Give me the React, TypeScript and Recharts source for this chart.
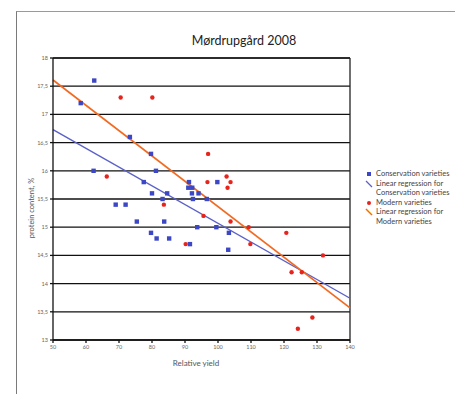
import { ScatterChart, Scatter, XAxis, YAxis, CartesianGrid, ReferenceLine } from 'recharts';

const xTicks = [50, 60, 70, 80, 90, 100, 110, 120, 130, 140];
const yTicks = [13, 13.5, 14, 14.5, 15, 15.5, 16, 16.5, 17, 17.5, 18];

const conservation = [
	{ x: 62.5, y: 17.6 }, { x: 58.4, y: 17.2 }, { x: 73.3, y: 16.6 }, { x: 79.7, y: 16.3 },
	{ x: 81.2, y: 16.0 }, { x: 62.3, y: 16.0 }, { x: 77.5, y: 15.8 }, { x: 80.0, y: 15.6 },
	{ x: 83.2, y: 15.5 }, { x: 84.6, y: 15.6 }, { x: 91.2, y: 15.8 }, { x: 91.0, y: 15.7 },
	{ x: 92.2, y: 15.7 }, { x: 92.1, y: 15.6 }, { x: 92.4, y: 15.5 }, { x: 94.1, y: 15.6 },
	{ x: 96.6, y: 15.5 }, { x: 99.8, y: 15.8 }, { x: 69.0, y: 15.4 }, { x: 72.0, y: 15.4 },
	{ x: 75.4, y: 15.1 }, { x: 83.7, y: 15.1 }, { x: 79.7, y: 14.9 }, { x: 81.4, y: 14.8 },
	{ x: 85.2, y: 14.8 }, { x: 93.7, y: 15.0 }, { x: 99.5, y: 15.0 }, { x: 103.3, y: 14.9 },
	{ x: 103.1, y: 14.6 }, { x: 91.5, y: 14.7 },
];

const modern = [
	{ x: 70.5, y: 17.3 }, { x: 80.1, y: 17.3 }, { x: 66.3, y: 15.9 }, { x: 97.0, y: 16.3 },
	{ x: 96.8, y: 15.8 }, { x: 102.6, y: 15.9 }, { x: 102.9, y: 15.7 }, { x: 103.8, y: 15.8 },
	{ x: 90.2, y: 14.7 }, { x: 83.6, y: 15.4 }, { x: 95.6, y: 15.2 }, { x: 103.8, y: 15.1 },
	{ x: 109.3, y: 15.0 }, { x: 109.8, y: 14.7 }, { x: 120.7, y: 14.9 }, { x: 131.8, y: 14.5 },
	{ x: 122.3, y: 14.2 }, { x: 125.4, y: 14.2 }, { x: 128.6, y: 13.4 }, { x: 124.2, y: 13.2 },
];

// regression line end points
const conservationFit = [{ x: 50, y: 16.73 }, { x: 140, y: 13.74 }];
const modernFit = [{ x: 50, y: 17.61 }, { x: 140, y: 13.57 }];

const BLUE = '#3b47c4';
const BLUE_LINE = '#5a60c8';
const RED = '#e8231c';
const ORANGE = '#f26a21';
const FONT = 'Lato, "Open Sans", sans-serif';

const SquareDot = (props: any) => {
	const { cx, cy } = props;
	return <rect x={cx - 2.2} y={cy - 2.2} width={4.4} height={4.4} fill={BLUE} />;
};

const RoundDot = (props: any) => {
	const { cx, cy } = props;
	return <circle cx={cx} cy={cy} r={2.2} fill={RED} />;
};

const legendText = { fontSize: 7.5, color: '#444', lineHeight: '9.5px', whiteSpace: 'nowrap' as const };

const LegendBox = () => (
	<div style={{ position: 'absolute', left: 363, top: 169, fontFamily: FONT }}>
		<div style={{ position: 'relative', paddingLeft: 13, ...legendText }}>
			<span style={{ position: 'absolute', left: 4, top: 3, width: 4, height: 4, background: BLUE }} />
			Conservation varieties
		</div>
		<div style={{ position: 'relative', paddingLeft: 13, ...legendText }}>
			<svg width={8} height={8} style={{ position: 'absolute', left: 2, top: 1 }}>
				<line x1={1} y1={1} x2={7} y2={7} stroke={BLUE_LINE} strokeWidth={1.3} />
			</svg>
			Linear regression for
			<br />
			Conservation varieties
		</div>
		<div style={{ position: 'relative', paddingLeft: 13, ...legendText }}>
			<span style={{ position: 'absolute', left: 4, top: 3, width: 4, height: 4, borderRadius: 2, background: RED }} />
			Modern varieties
		</div>
		<div style={{ position: 'relative', paddingLeft: 13, ...legendText }}>
			<svg width={8} height={8} style={{ position: 'absolute', left: 2, top: 1 }}>
				<line x1={1} y1={1} x2={7} y2={7} stroke={ORANGE} strokeWidth={1.6} />
				<line x1={2} y1={1} x2={7} y2={6} stroke='#ffd23a' strokeWidth={0.6} />
			</svg>
			Linear regression for
			<br />
			Modern varieties
		</div>
	</div>
);

const YLabel = () => (
	<text x={34} y={208} transform='rotate(-90 34 208)' textAnchor='middle' fontSize={7.5} fill='#555' fontFamily={FONT}>
		protein content, %
	</text>
);

const XLabel = () => (
	<text x={196} y={366} textAnchor='middle' fontSize={8} fill='#555' fontFamily={FONT}>
		Relative yield
	</text>
);

const App = () => {
	return (
		<div style={{ position: 'absolute', left: 0, top: 0, width: 455, height: 394, background: '#fff', overflow: 'hidden' }}>
			<div
				style={{
					position: 'absolute',
					left: 16,
					top: 11,
					width: 460,
					height: 400,
					borderLeft: '1px solid #7a7a7a',
					borderTop: '1px solid #9a9a9a',
				}}
			/>
			<div
				style={{
					position: 'absolute',
					left: 144,
					width: 200,
					top: 33,
					textAlign: 'center',
					fontFamily: FONT,
					fontSize: 12.5,
					color: '#222',
				}}
			>
				Mørdrupgård 2008
			</div>
			<ScatterChart width={455} height={394} margin={{ top: 58, right: 105, left: 13, bottom: 34 }} style={{ position: 'absolute', left: 0, top: 0 }}>
				<CartesianGrid vertical={false} stroke='#111' strokeWidth={1.3} />
				<XAxis
					type='number'
					dataKey='x'
					domain={[50, 140]}
					ticks={xTicks}
					height={20}
					interval={0}
					tickSize={3}
					stroke='#111'
					strokeWidth={1.3}
					tick={{ fontSize: 5.5, fill: '#666', fontFamily: FONT }}
					label={<XLabel />}
				/>
				<YAxis
					type='number'
					dataKey='y'
					domain={[13, 18]}
					ticks={yTicks}
					width={40}
					interval={0}
					tickSize={3}
					stroke='#111'
					strokeWidth={1.3}
					tickFormatter={(v: number) => String(v).replace('.', ',')}
					tick={{ fontSize: 5.5, fill: '#666', fontFamily: FONT }}
					label={<YLabel />}
				/>
				<ReferenceLine x={140} stroke='#222' strokeWidth={1.3} />
				<ReferenceLine y={18} stroke='#222' strokeWidth={1.3} />
				<ReferenceLine
					segment={[conservationFit[0], conservationFit[1]]}
					stroke={BLUE_LINE}
					strokeWidth={1.4}
					ifOverflow='visible'
				/>
				<ReferenceLine segment={[modernFit[0], modernFit[1]]} stroke={ORANGE} strokeWidth={1.7} ifOverflow='visible' />
				<Scatter name='Conservation varieties' data={conservation} shape={SquareDot} isAnimationActive={false} />
				<Scatter name='Modern varieties' data={modern} shape={RoundDot} isAnimationActive={false} />
			</ScatterChart>
			<LegendBox />
		</div>
	);
};

export default App;
